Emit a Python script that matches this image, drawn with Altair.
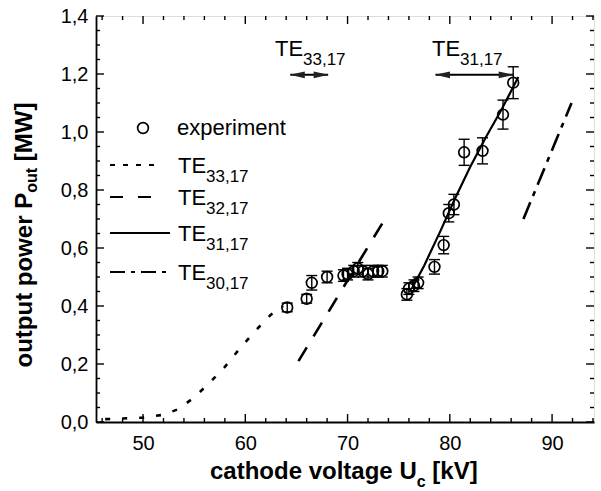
import altair as alt
import pandas as pd

# ---------------- data ----------------
exp_u = [64.1, 66.0, 66.5, 68.0, 69.6, 70.0, 70.6, 71.0, 71.5, 72.0, 72.5, 73.0, 73.4,
         75.8, 76.0, 76.5, 76.9, 78.5, 79.4, 79.9, 80.4, 81.4, 83.2, 85.2, 86.2]
exp_p = [0.395, 0.425, 0.48, 0.50, 0.505, 0.51, 0.52, 0.53, 0.52, 0.51, 0.52, 0.52, 0.52,
         0.44, 0.46, 0.47, 0.48, 0.535, 0.61, 0.72, 0.75, 0.93, 0.935, 1.06, 1.17]
exp_err = [0.015, 0.015, 0.025, 0.02, 0.02, 0.02, 0.02, 0.02, 0.02, 0.02, 0.02, 0.02, 0.02,
           0.02, 0.02, 0.02, 0.02, 0.025, 0.03, 0.03, 0.035, 0.045, 0.045, 0.05, 0.055]

te33_u = [46.3, 48.0, 50.0, 52.0, 53.5, 55.0, 56.5, 58.0, 59.5, 61.0, 62.5, 63.7]
te33_p = [0.010, 0.012, 0.015, 0.025, 0.045, 0.085, 0.135, 0.19, 0.255, 0.315, 0.37, 0.40]

te32_u = [65.2, 74.0]
te32_p = [0.21, 0.72]

te31_u = [76.3, 77.5, 79.1, 80.5, 82.0, 83.5, 85.1, 86.7]
te31_p = [0.46, 0.54, 0.66, 0.77, 0.88, 0.98, 1.08, 1.19]

te30_u = [87.2, 91.9]
te30_p = [0.70, 1.10]

arrow33_u = [64.4, 68.1]
arrow31_u = [78.6, 86.2]
arrow_p = 1.197

x_major = [50, 60, 70, 80, 90]
x_minor = [46, 48, 52, 54, 56, 58, 62, 64, 66, 68, 72, 74, 76, 78, 82, 84, 86, 88, 92, 94]
y_major = [0.0, 0.2, 0.4, 0.6, 0.8, 1.0, 1.2, 1.4]
y_minor = [0.05, 0.1, 0.15, 0.25, 0.3, 0.35, 0.45, 0.5, 0.55, 0.65, 0.7, 0.75,
           0.85, 0.9, 0.95, 1.05, 1.1, 1.15, 1.25, 1.3, 1.35]

legend_labels = ["33,17", "32,17", "31,17", "30,17"]

# ---------------- setup ----------------
W, H = 498, 406
FONT = "Liberation Sans"

xs = alt.Scale(domain=[45.4, 94.1], nice=False, zero=False)
ys = alt.Scale(domain=[0, 1.4], nice=False, zero=False)
xaxis = alt.Axis(values=x_major, ticks=False, grid=False, title=None, labelPadding=11,
                 labelFontSize=20, labelFont=FONT, labelColor="black",
                 domainColor="black", domainWidth=1.8, format="d")
yaxis = alt.Axis(values=y_major, ticks=False, grid=False, title=None, labelPadding=8,
                 labelFontSize=20, labelFont=FONT, labelColor="black",
                 domainColor="black", domainWidth=1.8,
                 labelExpr="replace(format(datum.value, '.1f'), '.', ',')")


def X(f):
    return alt.X(f, type="quantitative", scale=xs, axis=xaxis)


def Y(f):
    return alt.Y(f, type="quantitative", scale=ys, axis=yaxis)


one = pd.DataFrame({"a": [0]})

exp_df = pd.DataFrame({"u": exp_u, "p": exp_p,
                       "lo": [p - e for p, e in zip(exp_p, exp_err)],
                       "hi": [p + e for p, e in zip(exp_p, exp_err)]})

layers = []

# curves
def curve(us, ps, dash, width):
    df = pd.DataFrame({"u": us, "p": ps})
    kw = dict(color="black", strokeWidth=width, clip=True)
    if dash:
        kw["strokeDash"] = dash
    return alt.Chart(df).mark_line(**kw).encode(x=X("u"), y=Y("p"))

layers.append(curve(te33_u, te33_p, [5, 12], 2.6))
layers.append(curve(te32_u, te32_p, [16, 13], 2.6))
layers.append(curve(te31_u, te31_p, None, 2.2))
layers.append(curve(te30_u, te30_p, [18, 7, 5, 7], 2.6))

# error bars
layers.append(alt.Chart(exp_df).mark_rule(color="black", strokeWidth=1.4).encode(
    x=X("u"), y=Y("lo"), y2="hi"))
layers.append(alt.Chart(exp_df).mark_rule(color="black", strokeWidth=1.4, xOffset=-5.5, x2Offset=5.5).encode(
    x=X("u"), x2="u", y=Y("lo")))
layers.append(alt.Chart(exp_df).mark_rule(color="black", strokeWidth=1.4, xOffset=-5.5, x2Offset=5.5).encode(
    x=X("u"), x2="u", y=Y("hi")))
# points
layers.append(alt.Chart(exp_df).mark_point(shape="circle", filled=False, color="black",
                                           size=115, strokeWidth=1.7, opacity=1).encode(
    x=X("u"), y=Y("p")))

# inward ticks
xmaj = pd.DataFrame({"v": x_major})
xmin = pd.DataFrame({"v": x_minor})
ymaj = pd.DataFrame({"v": y_major})
ymin = pd.DataFrame({"v": y_minor})
for df, ln in ((xmaj, 8), (xmin, 4)):
    layers.append(alt.Chart(df).mark_rule(color="black", strokeWidth=1.4).encode(
        x=X("v"), y=alt.value(H), y2=alt.value(H - ln)))
    layers.append(alt.Chart(df).mark_rule(color="black", strokeWidth=1.4).encode(
        x=X("v"), y=alt.value(0), y2=alt.value(ln)))
for df, ln in ((ymaj, 8), (ymin, 4)):
    layers.append(alt.Chart(df).mark_rule(color="black", strokeWidth=1.4).encode(
        y=Y("v"), x=alt.value(0), x2=alt.value(ln)))
    layers.append(alt.Chart(df).mark_rule(color="black", strokeWidth=1.4).encode(
        y=Y("v"), x=alt.value(W - ln), x2=alt.value(W)))

# arrows
arr_df = pd.DataFrame({"u0": [arrow33_u[0], arrow31_u[0]], "u1": [arrow33_u[1], arrow31_u[1]],
                       "p": [arrow_p, arrow_p]})
layers.append(alt.Chart(arr_df).mark_rule(color="black", strokeWidth=2).encode(
    x=X("u0"), x2="u1", y=Y("p")))
layers.append(alt.Chart(arr_df).mark_point(shape="M-1,0L1,-0.45L1,0.45Z", filled=True, color="#222",
                                           size=225, opacity=1, xOffset=7).encode(
    x=X("u0"), y=Y("p")))
layers.append(alt.Chart(arr_df).mark_point(shape="M1,0L-1,-0.45L-1,0.45Z", filled=True, color="#222",
                                           size=225, opacity=1, xOffset=-7).encode(
    x=X("u1"), y=Y("p")))


def txt(s, x, y, size, bold=False, angle=0, baseline="alphabetic", align="left"):
    kw = dict(text=s, font=FONT, fontSize=size, color="black", align=align, baseline=baseline)
    if bold:
        kw["fontWeight"] = "bold"
    if angle:
        kw["angle"] = angle
    return alt.Chart(one).mark_text(**kw).encode(x=alt.value(x), y=alt.value(y))


# top annotations
layers.append(txt("TE", 179, 40, 22))
layers.append(txt(legend_labels[0], 207, 49, 17))
layers.append(txt("TE", 336, 40, 22))
layers.append(txt(legend_labels[2], 364, 49, 17))

# legend
layers.append(alt.Chart(one).mark_point(shape="circle", filled=False, color="black", size=115,
                                        strokeWidth=1.7, opacity=1).encode(
    x=alt.value(47), y=alt.value(112)))
layers.append(txt("experiment", 81, 112, 22, baseline="middle"))
rows = [(149, 62, [5, 8]), (181, 56, [13, 15]), (217, 74, None), (256, 72, [15, 6, 4, 6])]
for (ly, x2, dash), lab in zip(rows, legend_labels):
    kw = dict(color="black", strokeWidth=2.2)
    if dash:
        kw["strokeDash"] = dash
    layers.append(alt.Chart(one).mark_rule(**kw).encode(
        x=alt.value(14), x2=alt.value(x2), y=alt.value(ly)))
    layers.append(txt("TE", 82, ly + 8, 22))
    layers.append(txt(lab, 110, ly + 17, 17))

# axis titles
layers.append(txt("cathode voltage U", 114, 463, 24, bold=True))
layers.append(txt("c", 320.7, 471, 16, bold=True))
layers.append(txt("[kV]", 336.3, 463, 24, bold=True))

layers.append(txt("output power P", -64, 351.5, 24, bold=True, angle=270))
layers.append(txt("out", -59, 176.8, 16, bold=True, angle=270))
layers.append(txt("[MW]", -64, 145.2, 24, bold=True, angle=270))

chart = alt.layer(*layers).properties(
    width=W, height=H,
    padding={"left": 96, "top": 16, "right": 7, "bottom": 69},
    autosize=alt.AutoSizeParams(type="none"),
).configure_view(stroke="black", strokeWidth=1.8).configure(background="white")

chart.save("out.html", embed_options={"renderer": "svg", "actions": False})
